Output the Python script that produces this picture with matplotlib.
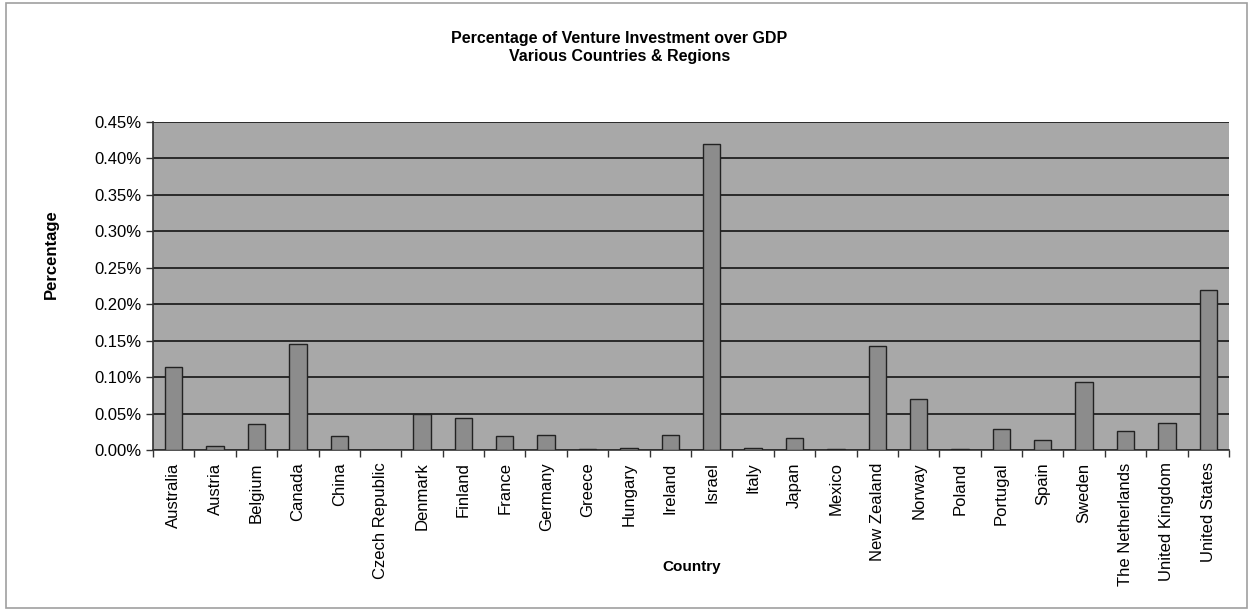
import numpy as np
import matplotlib.pyplot as plt
from matplotlib.patches import Rectangle
from matplotlib.ticker import FuncFormatter, FixedLocator

countries = ['Australia', 'Austria', 'Belgium', 'Canada', 'China', 'Czech Republic',
             'Denmark', 'Finland', 'France', 'Germany', 'Greece', 'Hungary', 'Ireland',
             'Israel', 'Italy', 'Japan', 'Mexico', 'New Zealand', 'Norway', 'Poland',
             'Portugal', 'Spain', 'Sweden', 'The Netherlands', 'United Kingdom',
             'United States']
# percent of GDP
values = [0.114, 0.006, 0.035, 0.145, 0.019, 0.0,
          0.050, 0.044, 0.019, 0.020, 0.001, 0.003, 0.020,
          0.420, 0.003, 0.017, 0.001, 0.143, 0.070, 0.001,
          0.029, 0.014, 0.093, 0.026, 0.037,
          0.220]
yticks = [0.0, 0.05, 0.10, 0.15, 0.20, 0.25, 0.30, 0.35, 0.40, 0.45]

plt.rcParams['font.family'] = ['Liberation Sans', 'DejaVu Sans']

fig = plt.figure(figsize=(12.49, 6.13), dpi=100)
fig.patch.set_facecolor('white')

# outer chart frame
fig.add_artist(Rectangle((0.005, 0.008), 0.993, 0.987, transform=fig.transFigure,
                         fill=False, edgecolor='#a0a0a0', linewidth=1.2))

ax = fig.add_axes([0.1225, 0.266, 0.8615, 0.535])
ax.set_facecolor('#a8a8a8')

x = np.arange(len(countries))
ax.bar(x, values, width=0.42, color='#8c8c8c', edgecolor='#222222', linewidth=1.0, zorder=3)

ax.set_xlim(-0.5, len(countries) - 0.5)
ax.set_ylim(0, 0.45)
ax.set_yticks(yticks)
ax.yaxis.set_major_formatter(FuncFormatter(lambda v, p: '%.2f%%' % v))
ax.grid(axis='y', color='#2a2a2a', linewidth=1.4, zorder=1)

ax.set_xticks(x)
ax.set_xticklabels(countries, rotation=90)
ax.xaxis.set_minor_locator(FixedLocator(np.arange(-0.5, len(countries), 1.0)))
ax.tick_params(axis='x', which='major', length=0, labelsize=12, pad=9)
ax.tick_params(axis='x', which='minor', length=5, width=1, color='#333333')
ax.tick_params(axis='y', length=5, width=1, color='#333333', labelsize=12, pad=3)

for s in ['top', 'right']:
    ax.spines[s].set_visible(False)
for s in ['left', 'bottom']:
    ax.spines[s].set_color('#333333')
    ax.spines[s].set_linewidth(1.2)

fig.text(0.041, 0.586, 'Percentage', fontsize=12, fontweight='bold', rotation=90,
         ha='center', va='center')
fig.text(0.554, 0.075, 'Country', fontsize=11, fontweight='bold', ha='center', va='center')

fig.text(0.496, 0.938, 'Percentage of Venture Investment over GDP', fontsize=11.5,
         fontweight='bold', ha='center', va='center')
fig.text(0.496, 0.908, 'Various Countries & Regions', fontsize=11.5,
         fontweight='bold', ha='center', va='center')

fig.savefig('out.png', dpi=100)
